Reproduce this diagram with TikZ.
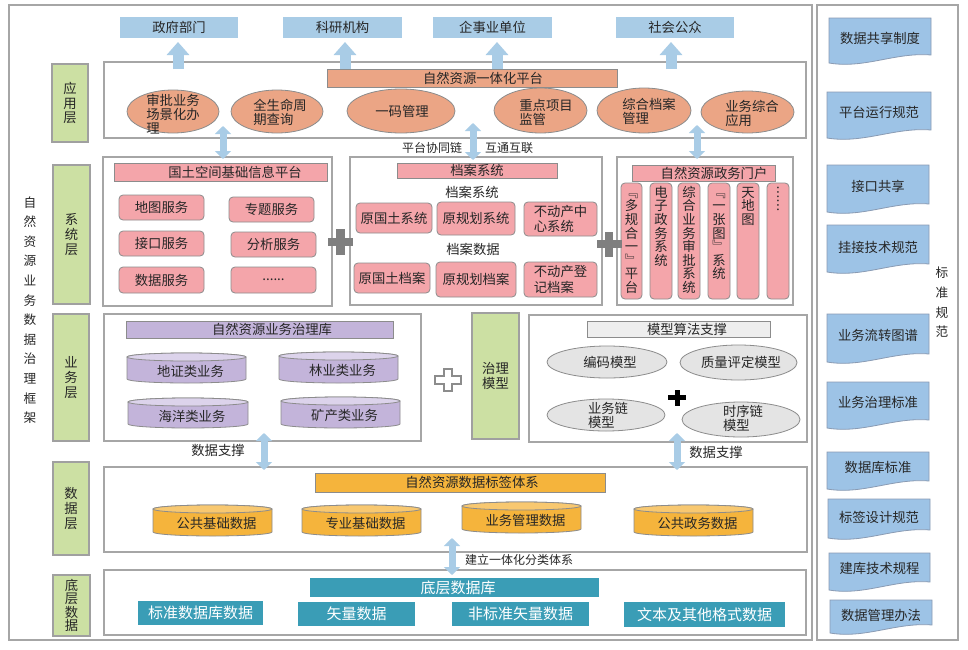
\documentclass[tikz,border=0pt]{standalone}
\usepackage{fontspec}
\setmainfont{Noto Sans CJK SC}
\usetikzlibrary{shapes.geometric,arrows.meta,calc}
\definecolor{txt}{HTML}{262626}
\definecolor{topblue}{HTML}{A9CCE6}
\definecolor{arrowblue}{HTML}{A9CCE6}
\definecolor{lgreen}{HTML}{CCE0A3}
\definecolor{labgray}{HTML}{A0A0A0}
\definecolor{framegray}{HTML}{A6A6A6}
\definecolor{bordergray}{HTML}{8C8C8C}
\definecolor{salmon}{HTML}{EBA585}
\definecolor{pinkc}{HTML}{F4A5AA}
\definecolor{lav}{HTML}{C3B4DA}
\definecolor{lavtop}{HTML}{DCD3EB}
\definecolor{ellgray}{HTML}{E4E4E4}
\definecolor{modelbar}{HTML}{EEEEEE}
\definecolor{orangec}{HTML}{F5B43C}
\definecolor{orangetop}{HTML}{F8C870}
\definecolor{tealc}{HTML}{3A9DB6}
\definecolor{docblue}{HTML}{9DC3E6}
\definecolor{docborder}{HTML}{8A9BB3}
\definecolor{plusgray}{HTML}{7F7F7F}
\newcommand\myfs[2]{\fontsize{#1}{#2}\selectfont}
\newcommand\vfirst[1]{\rule{0pt}{8.5pt}\smash{#1}}
% box from corners: [style]{name}{L}{T}{R}{B}{text}
\newcommand\mybox[7][]{%
  \pgfmathsetmacro\mybw{(#5-#3)*0.75}%
  \pgfmathsetmacro\mybh{(#6-#4)*0.75}%
  \node[#1, minimum width=\mybw pt, minimum height=\mybh pt] (#2) at ({(#3+#5)/2},{(#4+#6)/2}) {#7};
}
\newcommand\cylnode[8]{%
  \pgfmathsetmacro\cylcx{(#2+#4)/2}%
  \pgfmathsetmacro\cylrx{(#4-#2)/2*0.75}%
  \filldraw[fill=#6, draw=bordergray, line width=0.6pt] (#2,#3+4) -- (#2,#5-4)
    arc[start angle=180, end angle=360, x radius=\cylrx pt, y radius=3pt] -- (#4,#3+4)
    arc[start angle=0, end angle=180, x radius=\cylrx pt, y radius=3pt] -- cycle;
  \filldraw[fill=#7, draw=bordergray, line width=0.6pt] (\cylcx,#3+4) ellipse[x radius=\cylrx pt, y radius=3pt];
  \node (#1) at ({\cylcx+4},{(#3+#5)/2+3}) {#8};
}
\newcommand\docnode[7]{%
  \pgfmathsetmacro\docw{#4-#2}%
  \filldraw[fill=docblue, draw=docborder, line width=0.6pt] (#2,#3) -- (#4,#3) -- (#4,#5-8)
    .. controls ({#4-0.35*\docw},#5-11) and ({#2+0.35*\docw},#5+6) .. (#2,#5) -- cycle;
  \node (#1) at ({(#2+#4)/2},#6) {#7};
}
\begin{document}
\begin{tikzpicture}[x=0.75pt,y=-0.75pt,
  every node/.style={inner sep=0pt, outer sep=0pt, text=txt, font=\myfs{10}{14}},
  frame/.style={draw=framegray, line width=0.9pt},
  greenlab/.style={fill=lgreen, draw=labgray, line width=0.9pt, align=center, font=\myfs{10}{11}},
  topbox/.style={fill=topblue},
  salbar/.style={fill=salmon, draw=bordergray, line width=0.6pt},
  salell/.style={ellipse, fill=salmon, draw=bordergray, line width=0.6pt},
  pinkbar/.style={fill=pinkc, draw=bordergray, line width=0.6pt},
  pinkbox/.style={fill=pinkc, draw=bordergray, line width=0.6pt, rounded corners=3pt, align=left, font=\myfs{10}{11.5}},
  lavbar/.style={fill=lav, draw=bordergray, line width=0.6pt},
  graybar/.style={fill=modelbar, draw=bordergray, line width=0.6pt},
  grayell/.style={ellipse, fill=ellgray, draw=bordergray, line width=0.6pt},
  orbar/.style={fill=orangec, draw=bordergray, line width=0.6pt},
  tealbox/.style={fill=tealc, text=white, font=\myfs{11.25}{14}},
  vtxt/.style={align=center, font=\myfs{10}{10.2}, anchor=north},
  multi/.style={align=left, font=\myfs{10}{10.5}},
  smalltxt/.style={font=\myfs{9}{12}},
  upblk/.style={draw=arrowblue, line width=8.25pt, -{Triangle[width=16.5pt,length=9.75pt]}},
  dblblk/.style={draw=arrowblue, line width=5.25pt, {Triangle[width=12pt,length=6pt]}-{Triangle[width=12pt,length=6pt]}}
]
\fill[white] (0,0) rectangle (968,650);
\useasboundingbox (0,0) rectangle (968,650);

% outer frames
\mybox[frame]{outer}{9}{5}{812}{640}{}
\mybox[frame]{stdf}{817}{5}{958}{640}{}

% titles
\node[align=center, font=\myfs{9.5}{14.7}] (title) at (30,310) {自\\然\\资\\源\\业\\务\\数\\据\\治\\理\\框\\架};
\node[align=center, font=\myfs{9.5}{14.8}] (stdt) at (942,302.5) {标\\准\\规\\范};

% top users
\mybox[topbox]{gov}{120}{17}{238}{38}{政府部门}
\mybox[topbox]{sci}{283}{17}{402}{38}{科研机构}
\mybox[topbox]{ent}{433}{17}{552}{38}{企事业单位}
\mybox[topbox]{soc}{616}{17}{734}{38}{社会公众}

% application layer
\mybox[greenlab]{l1}{52}{64}{88}{142}{应\\用\\层}
\mybox[frame]{appf}{104}{62}{806}{138}{}
\draw[upblk] ($(gov.south)+(-1,31)$) -- ($(gov.south)+(-1,4)$);
\draw[upblk] ($(sci.south)+(2.5,31)$) -- ($(sci.south)+(2.5,4)$);
\draw[upblk] ($(ent.south)+(4.5,31)$) -- ($(ent.south)+(4.5,4)$);
\draw[upblk] ($(soc.south)+(-4,31)$) -- ($(soc.south)+(-4,4)$);
\mybox[salbar]{plat}{327}{69}{617}{87}{}
\node (platt) at (483,78) {自然资源一体化平台};
\mybox[salell]{e1}{127}{90}{219}{133}{}
\node[multi] (e1t) at (173,114) {审批业务\\场景化办\\理};
\mybox[salell]{e2}{231}{90}{323}{133}{}
\node[multi] (e2t) at (280,112.5) {全生命周\\期查询};
\mybox[salell]{e3}{347}{89}{455}{133}{}
\node (e3t) at (402,111) {一码管理};
\mybox[salell]{e4}{494}{88}{587}{133}{}
\node[multi] (e4t) at (546,112) {重点项目\\监管};
\mybox[salell]{e5}{597}{88}{691}{133}{}
\node[multi] (e5t) at (649,111) {综合档案\\管理};
\mybox[salell]{e6}{701}{91}{794}{133}{}
\node[multi] (e6t) at (752,113) {业务综合\\应用};

\node[smalltxt] (lk1) at (432,148) {平台协同链};
\node[smalltxt] (lk2) at (509,148) {互通互联};

% system layer
\mybox[greenlab]{l2}{53}{165}{90}{304}{系\\统\\层}
\mybox[frame]{sysL}{103}{157}{332}{306}{}
\mybox[pinkbar]{gis}{114}{163}{327}{181}{}
\node (gist) at (235,172) {国土空间基础信息平台};
\mybox[pinkbox]{s1}{119}{195}{204}{220}{地图服务}
\mybox[pinkbox]{s2}{229}{197}{314}{222}{专题服务}
\mybox[pinkbox]{s3}{119}{231}{204}{256}{接口服务}
\mybox[pinkbox]{s4}{231}{232}{316}{257}{分析服务}
\mybox[pinkbox]{s5}{119}{267}{204}{293}{数据服务}
\mybox[pinkbox]{s6}{231}{267}{316}{293}{......}

\mybox[frame]{sysM}{350}{157}{602}{305}{}
\mybox[pinkbar]{arch}{397}{163}{557}{178}{档案系统}
\node (archt1) at (472,192) {档案系统};
\mybox[pinkbox]{a1}{356}{203}{432}{233}{原国土系统}
\mybox[pinkbox]{a2}{437}{202}{515}{235}{原规划系统}
\mybox[pinkbox]{a3}{524}{202}{597}{236}{不动产中\\心系统}
\node (archt2) at (473,249) {档案数据};
\mybox[pinkbox]{b1}{354}{263}{430}{293}{原国土档案}
\mybox[pinkbox]{b2}{436}{262}{516}{297}{原规划档案}
\mybox[pinkbox]{b3}{524}{262}{597}{297}{不动产登\\记档案}

\mybox[frame]{sysR}{617}{157}{793}{305}{}
\mybox[pinkbar]{portal}{632}{165}{775}{181}{}
\node (portalt) at (714,173) {自然资源政务门户};
\mybox[pinkbox]{v1}{621}{183}{642}{299}{}
\mybox[pinkbox]{v2}{650}{183}{672}{299}{}
\mybox[pinkbox]{v3}{678}{183}{700}{299}{}
\mybox[pinkbox]{v4}{708}{183}{730}{299}{}
\mybox[pinkbox]{v5}{737}{183}{759}{299}{}
\mybox[pinkbox]{v6}{767}{183}{789}{299}{}
\node[vtxt] (v1t) at ($(v1.north)+(0,3)$) {\vfirst{﹃}\\多\\规\\合\\一\\﹄\\平\\台};
\node[vtxt] (v2t) at ($(v2.north)+(0,3)$) {\vfirst{电}\\子\\政\\务\\系\\统};
\node[vtxt] (v3t) at ($(v3.north)+(0,3)$) {\vfirst{综}\\合\\业\\务\\审\\批\\系\\统};
\node[vtxt] (v4t) at ($(v4.north)+(0,3)$) {\vfirst{﹃}\\一\\张\\图\\﹄\\系\\统};
\node[vtxt] (v5t) at ($(v5.north)+(0,3)$) {\vfirst{天}\\地\\图};
\node[vtxt] (v6t) at ($(v6.north)+(0,3)$) {\vfirst{︙}\\︙};

% gray plus signs
\fill[plusgray] (328,237.75) rectangle (353,246.25);
\fill[plusgray] (336.25,229) rectangle (344.75,255);
\fill[plusgray] (597,239.75) rectangle (622,248.25);
\fill[plusgray] (604.75,232) rectangle (613.25,257);

% app <-> system arrows
\draw[dblblk] ($(sysL.north)+(5.5,-31)$) -- ($(sysL.north)+(5.5,2)$);
\draw[dblblk] ($(sysM.north)+(-3,-34)$) -- ($(sysM.north)+(-3,3)$);
\draw[dblblk] ($(sysR.north)+(-8,-32)$) -- ($(sysR.north)+(-8,2)$);

% business layer
\mybox[greenlab]{l3}{53}{314}{89}{441}{业\\务\\层}
\mybox[frame]{bizL}{104}{314}{421}{441}{}
\mybox[lavbar]{lib}{126}{321}{393}{338}{}
\node (libt) at (272,329.5) {自然资源业务治理库};
\cylnode{c1}{127}{353}{246}{383}{lav}{lavtop}{地证类业务}
\cylnode{c2}{279}{352}{398}{383}{lav}{lavtop}{林业类业务}
\cylnode{c3}{128}{398}{248}{428}{lav}{lavtop}{海洋类业务}
\cylnode{c4}{281}{397}{400}{428}{lav}{lavtop}{矿产类业务}
\filldraw[fill=white, draw=bordergray, line width=0.8pt] (444,369) -- (452,369) -- (452,376) -- (461,376) -- (461,384) -- (452,384) -- (452,391) -- (444,391) -- (444,384) -- (435,384) -- (435,376) -- (444,376) -- cycle;

\mybox[greenlab, font=\myfs{10}{11.25}]{l4}{472}{313}{519}{439}{治理\\模型}
\mybox[frame]{bizR}{529}{315}{807}{442}{}
\mybox[graybar]{alg}{587}{321}{770}{337}{}
\node (algt) at (687,329) {模型算法支撑};
\mybox[grayell]{m1}{547}{346}{667}{378}{}
\node (m1t) at (610,362) {编码模型};
\mybox[grayell]{m2}{680}{345}{797}{380}{}
\node (m2t) at (741,362) {质量评定模型};
\mybox[grayell]{m3}{547}{399}{665}{431}{}
\node[multi] (m3t) at (608,415) {业务链\\模型};
\mybox[grayell]{m4}{682}{402}{800}{437}{}
\node[multi] (m4t) at (743,418) {时序链\\模型};
\fill[black] (668,394.5) rectangle (686,399.5);
\fill[black] (674.5,390) rectangle (679.5,406);

% data layer
\mybox[greenlab]{l5}{53}{462}{89}{555}{数\\据\\层}
\mybox[frame]{dataf}{104}{467}{807}{552}{}
\mybox[orbar]{tag}{315}{473}{605}{492}{}
\node (tagt) at (472,482.5) {自然资源数据标签体系};
\cylnode{d1}{153}{505}{272}{536}{orangec}{orangetop}{公共基础数据}
\cylnode{d2}{302}{505}{421}{536}{orangec}{orangetop}{专业基础数据}
\cylnode{d3}{462}{502}{581}{533}{orangec}{orangetop}{业务管理数据}
\cylnode{d4}{634}{505}{753}{536}{orangec}{orangetop}{公共政务数据}

\draw[dblblk] ($(bizL.south)+(1.5,-8)$) -- ($(bizL.south)+(1.5,29)$);
\node (ds1) at (218,450) {数据支撑};
\draw[dblblk] ($(bizR.south)+(9,-9)$) -- ($(bizR.south)+(9,28)$);
\node (ds2) at (716,452) {数据支撑};

% bottom layer
\mybox[greenlab, font=\myfs{10}{10}]{l6}{53}{575}{90}{636}{底\\层\\数\\据}
\mybox[frame]{botf}{104}{570}{806}{635}{}
\mybox[tealbox]{bdb}{310}{578}{599}{597}{}
\node[text=white, font=\myfs{11.25}{14}] (bdbt) at (458,588) {底层数据库};
\mybox[tealbox]{t1}{138}{601}{263}{625}{标准数据库数据}
\mybox[tealbox]{t2}{298}{602}{415}{626}{矢量数据}
\mybox[tealbox]{t3}{452}{602}{589}{626}{非标准矢量数据}
\mybox[tealbox]{t4}{624}{602}{785}{627}{文本及其他格式数据}

\draw[dblblk] ($(dataf.south)+(-3.5,-14)$) -- ($(dataf.south)+(-3.5,23)$);
\node[smalltxt, anchor=west] (bl) at (465,560) {建立一体化分类体系};

% standards column
\docnode{r1}{829}{18}{931}{63}{38}{数据共享制度}
\docnode{r2}{827}{92}{931}{138}{112}{平台运行规范}
\docnode{r3}{827}{165}{929}{212}{186}{接口共享}
\docnode{r4}{827}{225}{929}{272}{247}{挂接技术规范}
\docnode{r5}{827}{314}{929}{362}{335}{业务流转图谱}
\docnode{r6}{827}{382}{929}{428}{402}{业务治理标准}
\docnode{r7}{827}{452}{929}{489}{467}{数据库标准}
\docnode{r8}{828}{499}{930}{538}{517}{标签设计规范}
\docnode{r9}{829}{553}{930}{590}{568}{建库技术规程}
\docnode{r10}{830}{600}{932}{633}{615}{数据管理办法}
\end{tikzpicture}
\end{document}
